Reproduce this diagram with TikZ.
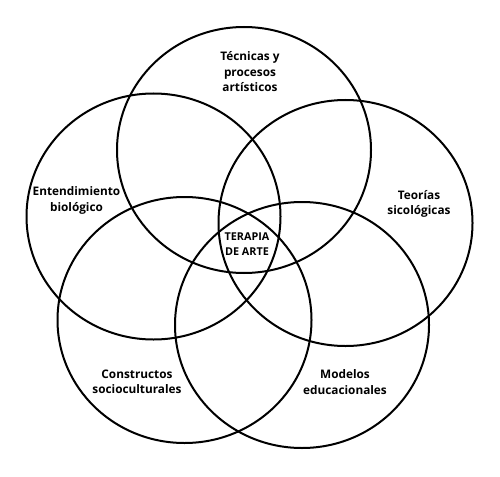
\documentclass[tikz,border=0pt]{standalone}
\usepackage{fontspec}
\setmainfont{Open Sans}
\usepackage{tikz}

\begin{document}
\begin{tikzpicture}[x=1pt,y=-1pt,ring/.style={line width=2pt,black},
   lbl/.style={align=center,font=\fontsize{11.8}{15.5}\selectfont\bfseries,inner sep=0pt},
   core/.style={align=center,font=\fontsize{10.8}{15}\selectfont\bfseries,inner sep=0pt}]
\useasboundingbox (0,0) rectangle (500,476);
\foreach \cx/\cy in %
{244/150,153.5/216.5,345.5/223,184.5/320,302/325} {
   \draw[ring] (\cx,\cy) ellipse [x radius=127,y radius=123];
}
\node[lbl] (tecnicas) at (250,72) {Técnicas y\\procesos\\artísticos};
\node[lbl] (biologico) at (76.5,200.5) {Entendimiento\\biológico};
\node[lbl] (teorias) at (419,204) {Teorías\\sicológicas};
\node[lbl] (constructos) at (137,382) {Constructos\\socioculturales};
\node[lbl] (modelos) at (345,382) {Modelos\\educacionales};
\node[core] (terapia) at (247,244.5) {TERAPIA\\DE ARTE};
\end{tikzpicture}
\end{document}
